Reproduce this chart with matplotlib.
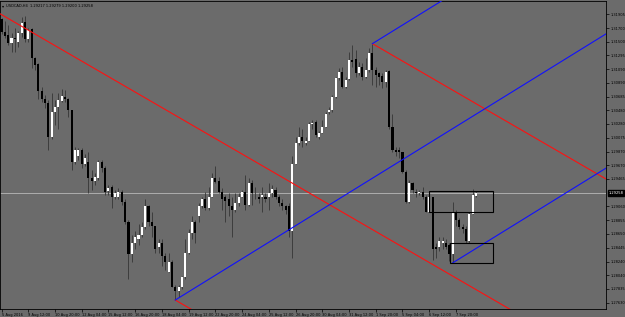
import matplotlib
matplotlib.use('Agg')
import matplotlib.pyplot as plt
import matplotlib.transforms as mtransforms
from matplotlib.patches import Rectangle
import numpy as np

# USDCAD H4 candles
opens = [1.3184, 1.3164, 1.3160, 1.3148, 1.3156, 1.3150, 1.3163, 1.3179, 1.3154, 1.3169,
         1.3126, 1.3117, 1.3077, 1.3065, 1.3059, 1.3009, 1.3045, 1.3053, 1.3062, 1.3068,
         1.3065, 1.3048, 1.2972, 1.2981, 1.2989, 1.2969, 1.2971, 1.2948, 1.2944, 1.2948,
         1.2971, 1.2963, 1.2929, 1.2935, 1.2919, 1.2920, 1.2927, 1.2913, 1.2883, 1.2835,
         1.2852, 1.2857, 1.2864, 1.2875, 1.2906, 1.2883, 1.2876, 1.2846, 1.2852, 1.2832,
         1.2809, 1.2824, 1.2787, 1.2780, 1.2786, 1.2801, 1.2837, 1.2867, 1.2882, 1.2892,
         1.2906, 1.2917, 1.2903, 1.2920, 1.2948, 1.2944, 1.2927, 1.2919, 1.2917, 1.2906,
         1.2900, 1.2911, 1.2920, 1.2927, 1.2908, 1.2941, 1.2925, 1.2920, 1.2919, 1.2920,
         1.2919, 1.2926, 1.2930, 1.2919, 1.2911, 1.2906, 1.2907, 1.2869, 1.2969, 1.2999,
         1.3009, 1.3000, 1.3003, 1.3028, 1.3031, 1.3009, 1.3015, 1.3023, 1.3045, 1.3049,
         1.3068, 1.3096, 1.3105, 1.3083, 1.3095, 1.3123, 1.3124, 1.3104, 1.3113, 1.3098,
         1.3108, 1.3133, 1.3108, 1.3104, 1.3099, 1.3090, 1.3107, 1.3023, 1.2990, 1.2989,
         1.2986, 1.2957, 1.2913, 1.2941, 1.2927, 1.2925, 1.2927, 1.2920, 1.2898, 1.2919,
         1.2845, 1.2845, 1.2852, 1.2852, 1.2849, 1.2835, 1.2897, 1.2886, 1.2875, 1.2873,
         1.2854, 1.2895, 1.29217]
highs = [1.3185, 1.3181, 1.3175, 1.3163, 1.3170, 1.3166, 1.3187, 1.3188, 1.3170, 1.3170,
         1.3127, 1.3119, 1.3083, 1.3071, 1.3064, 1.3074, 1.3064, 1.3074, 1.3080, 1.3079,
         1.3067, 1.3049, 1.2994, 1.2992, 1.2992, 1.2984, 1.2987, 1.2960, 1.2956, 1.2975,
         1.2975, 1.2965, 1.2938, 1.2938, 1.2930, 1.2933, 1.2930, 1.2916, 1.2886, 1.2864,
         1.2869, 1.2879, 1.2882, 1.2917, 1.2908, 1.2897, 1.2877, 1.2857, 1.2857, 1.2837,
         1.2837, 1.2827, 1.2790, 1.2789, 1.2802, 1.2857, 1.2872, 1.2891, 1.2886, 1.2911,
         1.2920, 1.2927, 1.2935, 1.2956, 1.2965, 1.2950, 1.2933, 1.2923, 1.2925, 1.2920,
         1.2926, 1.2926, 1.2930, 1.2953, 1.2948, 1.2945, 1.2935, 1.2926, 1.2935, 1.2926,
         1.2941, 1.2938, 1.2935, 1.2922, 1.2916, 1.2908, 1.2911, 1.2980, 1.3009, 1.3024,
         1.3020, 1.3008, 1.3031, 1.3034, 1.3034, 1.3017, 1.3034, 1.3045, 1.3053, 1.3071,
         1.3098, 1.3111, 1.3113, 1.3098, 1.3135, 1.3145, 1.3138, 1.3120, 1.3119, 1.3126,
         1.3141, 1.3147, 1.3113, 1.3105, 1.3104, 1.3108, 1.3108, 1.3042, 1.2994, 1.2994,
         1.2987, 1.2960, 1.2945, 1.2942, 1.2932, 1.2930, 1.2935, 1.2923, 1.2926, 1.2920,
         1.2852, 1.2860, 1.2861, 1.2857, 1.2852, 1.2913, 1.2901, 1.2889, 1.2879, 1.2876,
         1.2898, 1.2931, 1.29279]
lows = [1.3161, 1.3156, 1.3145, 1.3135, 1.3135, 1.3142, 1.3157, 1.3150, 1.3150, 1.3111,
        1.3108, 1.3065, 1.3061, 1.3052, 1.2990, 1.3005, 1.3027, 1.3020, 1.3061, 1.3061,
        1.3039, 1.2960, 1.2968, 1.2975, 1.2963, 1.2966, 1.2926, 1.2930, 1.2938, 1.2945,
        1.2957, 1.2922, 1.2922, 1.2904, 1.2916, 1.2916, 1.2908, 1.2879, 1.2798, 1.2824,
        1.2842, 1.2849, 1.2861, 1.2872, 1.2876, 1.2861, 1.2837, 1.2837, 1.2817, 1.2812,
        1.2808, 1.2786, 1.2767, 1.2772, 1.2783, 1.2798, 1.2835, 1.2857, 1.2852, 1.2882,
        1.2904, 1.2901, 1.2901, 1.2919, 1.2941, 1.2926, 1.2901, 1.2883, 1.2891, 1.2860,
        1.2898, 1.2906, 1.2919, 1.2901, 1.2906, 1.2908, 1.2916, 1.2911, 1.2898, 1.2913,
        1.2901, 1.2920, 1.2916, 1.2907, 1.2901, 1.2894, 1.2861, 1.2830, 1.2968, 1.2997,
        1.2994, 1.2997, 1.3002, 1.3020, 1.3009, 1.3005, 1.3014, 1.3023, 1.3042, 1.3046,
        1.3067, 1.3093, 1.3081, 1.3081, 1.3093, 1.3113, 1.3098, 1.3101, 1.3093, 1.3096,
        1.3105, 1.3086, 1.3083, 1.3086, 1.3081, 1.3083, 1.3020, 1.2987, 1.2980, 1.2978,
        1.2956, 1.2911, 1.2911, 1.2926, 1.2920, 1.2923, 1.2916, 1.2897, 1.2897, 1.2827,
        1.2830, 1.2839, 1.2842, 1.2842, 1.2825, 1.2822, 1.2876, 1.2872, 1.2867, 1.2852,
        1.2852, 1.2894, 1.29200]
closes = [1.3164, 1.3158, 1.3148, 1.3156, 1.3154, 1.3163, 1.3178, 1.3154, 1.3167, 1.3126,
          1.3116, 1.3077, 1.3065, 1.3059, 1.3009, 1.3045, 1.3053, 1.3064, 1.3070, 1.3065,
          1.3048, 1.2972, 1.2989, 1.2989, 1.2968, 1.2977, 1.2948, 1.2944, 1.2950, 1.2971,
          1.2963, 1.2927, 1.2933, 1.2919, 1.2925, 1.2927, 1.2913, 1.2883, 1.2835, 1.2852,
          1.2861, 1.2864, 1.2875, 1.2906, 1.2883, 1.2876, 1.2843, 1.2852, 1.2832, 1.2823,
          1.2824, 1.2787, 1.2781, 1.2786, 1.2801, 1.2837, 1.2867, 1.2882, 1.2866, 1.2906,
          1.2917, 1.2903, 1.2920, 1.2948, 1.2942, 1.2927, 1.2916, 1.2914, 1.2906, 1.2900,
          1.2911, 1.2920, 1.2927, 1.2908, 1.2941, 1.2926, 1.2926, 1.2917, 1.2922, 1.2917,
          1.2926, 1.2932, 1.2920, 1.2911, 1.2906, 1.2901, 1.2869, 1.2968, 1.3000, 1.3009,
          1.3002, 1.3003, 1.3028, 1.3030, 1.3011, 1.3015, 1.3023, 1.3043, 1.3049, 1.3068,
          1.3096, 1.3105, 1.3083, 1.3093, 1.3123, 1.3120, 1.3104, 1.3113, 1.3098, 1.3108,
          1.3133, 1.3108, 1.3101, 1.3098, 1.3090, 1.3105, 1.3023, 1.2990, 1.2986, 1.2986,
          1.2957, 1.2913, 1.2941, 1.2930, 1.2925, 1.2927, 1.2920, 1.2898, 1.2919, 1.2842,
          1.2842, 1.2854, 1.2855, 1.2846, 1.2835, 1.2897, 1.2886, 1.2875, 1.2872, 1.2854,
          1.2895, 1.2923, 1.29258]

time_ticks = [0, 8, 16, 24, 32, 40, 48, 56, 64, 72, 80, 88, 96, 104, 112, 120, 128, 136]
time_labels = ['5 Aug 2016', '9 Aug 12:00', '10 Aug 20:00', '12 Aug 04:00', '15 Aug 12:00',
               '16 Aug 20:00', '18 Aug 04:00', '19 Aug 12:00', '22 Aug 20:00', '24 Aug 04:00',
               '25 Aug 12:00', '26 Aug 20:00', '30 Aug 04:00', '31 Aug 12:00', '1 Sep 20:00',
               '5 Sep 04:00', '6 Sep 12:00', '7 Sep 20:00']
price_ticks = [1.27630, 1.27835, 1.28040, 1.28240, 1.28445, 1.28650, 1.28855, 1.29060,
               1.29465, 1.29670, 1.29870, 1.30075, 1.30280, 1.30480, 1.30685, 1.30890,
               1.31090, 1.31295, 1.31500, 1.31700, 1.31905]

# drawn objects: channel slopes (price per bar) and rectangles (bar0, bar1, low, high)
red_slope = -0.000287
blue_slope = 0.000306
red_start = (0, 1.3190)
boxes = [(128.0, 147.2, 1.2898, 1.2929), (134.2, 147.2, 1.2822, 1.2851)]

bg = '#6b6b6b'
W, H = 625, 317
fig = plt.figure(figsize=(W / 100, H / 100), dpi=100, facecolor=bg)
ax = fig.add_axes([0, 8 / H, 606 / W, 308 / H], facecolor=bg)

x = np.arange(len(opens))
o = np.array(opens); c = np.array(closes)
hi = np.array(highs); lo = np.array(lows)
up = c >= o
body_lo = np.minimum(o, c)
body_h = np.maximum(np.abs(c - o), 0.00012)
colors = np.where(up, 'white', 'black')

ax.vlines(x, lo, hi, color='#363636', lw=0.6, zorder=2)
ax.bar(x, body_h, bottom=body_lo, width=0.62, color=colors, linewidth=0, zorder=3)

xmin, xmax = -0.45, 180.9
ax.axhline(closes[-1], color='#b8b8b8', lw=0.6, zorder=1)

def ray(x0, y0, slope, color):
    xs = np.array([x0, xmax])
    ax.plot(xs, y0 + slope * (xs - x0), color=color, lw=0.8, zorder=4)

ray(xmin, red_start[1] + red_slope * (xmin - red_start[0]), red_slope, '#ff1010')
ray(111, highs[111], red_slope, '#ff1010')
ray(52, lows[52], red_slope, '#ff1010')
ray(52, lows[52], blue_slope, '#1010ff')
ray(111, highs[111], blue_slope, '#1010ff')
ray(135, lows[135], blue_slope, '#1010ff')

for b0, b1, p0, p1 in boxes:
    ax.add_patch(Rectangle((b0, p0), b1 - b0, p1 - p0, fill=False,
                           edgecolor='black', lw=0.8, zorder=5))

ax.set_xlim(xmin, xmax)
ax.set_ylim(1.27537, 1.32102)

ax.yaxis.tick_right()
ax.set_yticks(price_ticks)
ax.set_yticklabels(['%.5f' % v for v in price_ticks])
ax.set_xticks(time_ticks)
ax.set_xticklabels(time_labels, ha='left')
ax.tick_params(axis='both', labelsize=2.6, length=2, width=0.5, color='black',
               labelcolor='black', pad=1)
for s in ax.spines.values():
    s.set_color('black')
    s.set_linewidth(0.6)

# current price marker on the price scale
tr = mtransforms.blended_transform_factory(ax.transAxes, ax.transData)
ax.text(1.004, closes[-1], '%.5f' % closes[-1], transform=tr, fontsize=2.6,
        color='white', va='center', ha='left', clip_on=False, zorder=6,
        bbox=dict(facecolor='black', edgecolor='black', pad=0.6))

fig.text(2 / W, 1 - 6 / H, '\u25be', fontsize=3, color='black', va='center')
fig.text(6 / W, 1 - 6 / H, 'USDCAD,H4  %.5f %.5f %.5f %.5f' % (opens[-1], highs[-1], lows[-1], closes[-1]),
         fontsize=2.6, color='black', va='center')

fig.savefig('out.png', dpi=100, facecolor=bg)
